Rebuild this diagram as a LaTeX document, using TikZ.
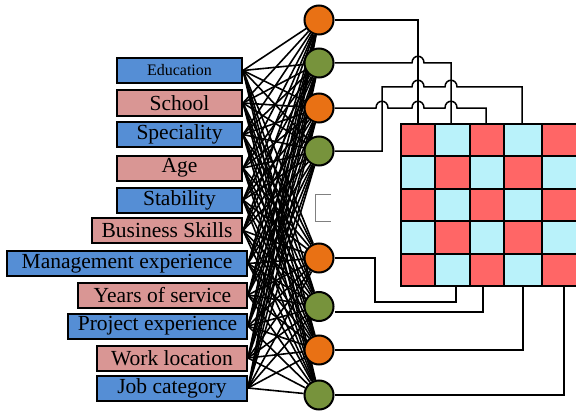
\documentclass[tikz,border=0pt]{standalone}
\usepackage{fontspec}
\setmainfont{Liberation Serif}
\usetikzlibrary{backgrounds}
\definecolor{boxblue}{HTML}{558ED5}
\definecolor{boxpink}{HTML}{D99694}
\definecolor{nrnorange}{HTML}{E97114}
\definecolor{nrngreen}{HTML}{77933C}
\definecolor{gridred}{HTML}{FF6666}
\definecolor{gridcyan}{HTML}{B9F2FA}
\begin{document}
\begin{tikzpicture}[x=1pt,y=-1pt,
  bx/.style={draw=black,line width=2pt,minimum height=25pt,inner sep=0pt,font=\fontsize{21.5}{24}\selectfont},
  bluebox/.style={bx,fill=boxblue},
  pinkbox/.style={bx,fill=boxpink},
  nrn/.style={circle,draw=black,line width=2pt,minimum size=29pt,inner sep=0pt},
  orn/.style={nrn,fill=nrnorange},
  grn/.style={nrn,fill=nrngreen},
  mesh/.style={line width=1.6pt},
  wire/.style={line width=1.5pt},
  cellb/.style={draw=black,line width=2pt}]
\useasboundingbox (0,0) rectangle (576,412);

% input boxes
\node[bluebox,minimum width=125pt,font=\fontsize{16}{18}\selectfont] (b1) at (179.5,70.5) {Education};
\node[pinkbox,minimum width=125pt] (b2) at (179.5,103) {School};
\node[bluebox,minimum width=125pt] (b3) at (179.5,134.5) {Speciality};
\node[pinkbox,minimum width=125pt] (b4) at (179.5,168) {Age};
\node[bluebox,minimum width=125pt] (b5) at (179.5,200) {Stability};
\node[pinkbox,minimum width=150pt] (b6) at (167,230.5) {Business Skills};
\node[bluebox,minimum width=240pt] (b7) at (127,263.5) {Management experience};
\node[pinkbox,minimum width=169pt] (b8) at (162.5,295) {Years of service};
\node[bluebox,minimum width=179pt] (b9) at (157.5,326) {Project experience};
\node[pinkbox,minimum width=150pt] (b10) at (172,358) {Work location};
\node[bluebox,minimum width=150pt] (b11) at (172,388) {Job category};

% neurons
\node[orn] (c1) at (319,20) {};
\node[grn] (c2) at (319,63) {};
\node[orn] (c3) at (319,108) {};
\node[grn] (c4) at (319,151) {};
\node[orn] (c5) at (319,258) {};
\node[grn] (c6) at (319,306.5) {};
\node[orn] (c7) at (319,350) {};
\node[grn] (c8) at (319,395) {};

% full mesh
\begin{pgfonlayer}{background}
\foreach \b in {1,...,11}{\foreach \c in {1,...,8}{\draw[mesh] (b\b.east) -- (c\c);}}
\end{pgfonlayer}

% grid
\foreach \xa/\xb [count=\i] in {401/435,435/470,470/504,504/542,542/580}{
  \foreach \ya/\yb [count=\j] in {124/156,156/189,189/221,221/254,254/286}{
    \pgfmathtruncatemacro\m{mod(\i+\j,2)}
    \ifnum\m=0 \def\cc{gridred}\else\def\cc{gridcyan}\fi
    \filldraw[cellb,fill=\cc] (\xa,\ya) rectangle (\xb,\yb);
  }
}

% free ends on the grid
\coordinate (t1) at (418,124);
\coordinate (t2) at (451,124);
\coordinate (t3) at (486,124);
\coordinate (t4) at (522,124);
\coordinate (u1) at (456,286);
\coordinate (u2) at (483,286);
\coordinate (u3) at (523,286);
\coordinate (u4) at (564,286);

% top wires with hops
\draw[wire] (c1.east) -- (418,20) -- (t1);
\draw[wire] (c2.east) -- (412,63) .. controls (412,54) and (424,54) .. (424,63) -- (451,63) -- (t2);
\draw[wire] (c4.east) -- (382,151) -- (382,87) -- (412,87) .. controls (412,78) and (424,78) .. (424,87)
  -- (445,87) .. controls (445,78) and (457,78) .. (457,87) -- (522,87) -- (t4);
\draw[wire] (c3.east) -- (376,108) .. controls (376,99) and (388,99) .. (388,108)
  -- (412,108) .. controls (412,99) and (424,99) .. (424,108)
  -- (445,108) .. controls (445,99) and (457,99) .. (457,108) -- (486,108) -- (t3);

% bottom wires
\draw[wire] (c5.east) -- (375,258) -- (375,302) -- (456,302) -- (u1);
\draw[wire] ([yshift=-5.5pt]c6.east) -- (483,312) -- (u2);
\draw[wire] (c7.east) -- (523,350) -- (u3);
\draw[wire] (c8.east) -- (564,395) -- (u4);

% small bracket
\draw[gray,line width=1pt] (331,194) -- (315.5,194) -- (315.5,221) -- (331,221);
\end{tikzpicture}
\end{document}
